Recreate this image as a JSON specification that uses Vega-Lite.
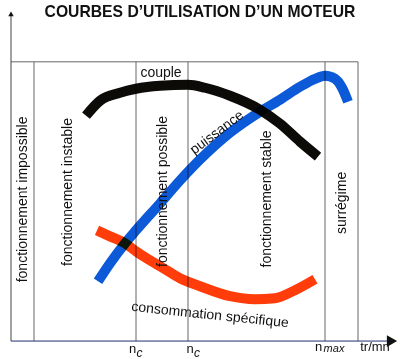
{
  "$schema": "https://vega.github.io/schema/vega-lite/v6.json",
  "width": 400,
  "height": 359,
  "autosize": {"type": "fit", "contains": "padding"},
  "padding": 0,
  "background": "white",
  "config": {"view": {"stroke": null}, "text": {"font": "Liberation Sans", "color": "#111111"}},
  "resolve": {"scale": {"color": "independent", "strokeWidth": "independent", "size": "independent", "shape": "independent"}},
  "datasets": {
    "cadre": [
      {"kind": "cadre", "x": 0, "y": 280, "x2": 347, "y2": 280},
      {"kind": "cadre", "x": 23, "y": 0, "x2": 23, "y2": 280},
      {"kind": "cadre", "x": 125, "y": 0, "x2": 125, "y2": 280},
      {"kind": "cadre", "x": 177, "y": 0, "x2": 177, "y2": 280},
      {"kind": "cadre", "x": 314, "y": 0, "x2": 314, "y2": 280},
      {"kind": "cadre", "x": 347, "y": 0, "x2": 347, "y2": 280},
      {"kind": "axe_y", "x": 0, "y": 0, "x2": 0, "y2": 327},
      {"kind": "axe_x", "x": 0, "y": 0, "x2": 380, "y2": 0}
    ],
    "fleches": [
      {"dir": "haut", "x": 0, "y": 328},
      {"dir": "droite", "x": 381, "y": 0}
    ],
    "courbes": [
      {"courbe": "couple", "x": 75, "y": 226},
      {"courbe": "couple", "x": 89, "y": 241},
      {"courbe": "couple", "x": 109, "y": 249},
      {"courbe": "couple", "x": 125, "y": 253},
      {"courbe": "couple", "x": 149, "y": 256},
      {"courbe": "couple", "x": 177, "y": 257},
      {"courbe": "couple", "x": 194, "y": 254},
      {"courbe": "couple", "x": 219, "y": 246},
      {"courbe": "couple", "x": 249, "y": 232},
      {"courbe": "couple", "x": 269, "y": 218},
      {"courbe": "couple", "x": 289, "y": 200},
      {"courbe": "couple", "x": 307, "y": 185},
      {"courbe": "puissance", "x": 87, "y": 60},
      {"courbe": "puissance", "x": 99, "y": 78},
      {"courbe": "puissance", "x": 114, "y": 98},
      {"courbe": "puissance", "x": 125, "y": 111},
      {"courbe": "puissance", "x": 149, "y": 138},
      {"courbe": "puissance", "x": 169, "y": 161},
      {"courbe": "puissance", "x": 189, "y": 182},
      {"courbe": "puissance", "x": 219, "y": 209},
      {"courbe": "puissance", "x": 249, "y": 230},
      {"courbe": "puissance", "x": 269, "y": 242},
      {"courbe": "puissance", "x": 289, "y": 255},
      {"courbe": "puissance", "x": 304, "y": 263},
      {"courbe": "puissance", "x": 314, "y": 266},
      {"courbe": "puissance", "x": 324, "y": 263},
      {"courbe": "puissance", "x": 331, "y": 254},
      {"courbe": "puissance", "x": 337, "y": 240},
      {"courbe": "consommation", "x": 86, "y": 111},
      {"courbe": "consommation", "x": 99, "y": 105},
      {"courbe": "consommation", "x": 114, "y": 98},
      {"courbe": "consommation", "x": 125, "y": 90},
      {"courbe": "consommation", "x": 139, "y": 81},
      {"courbe": "consommation", "x": 154, "y": 72},
      {"courbe": "consommation", "x": 169, "y": 63},
      {"courbe": "consommation", "x": 189, "y": 55},
      {"courbe": "consommation", "x": 219, "y": 45},
      {"courbe": "consommation", "x": 244, "y": 42},
      {"courbe": "consommation", "x": 264, "y": 43},
      {"courbe": "consommation", "x": 284, "y": 51},
      {"courbe": "consommation", "x": 304, "y": 62}
    ],
    "zones": [
      {"label": "fonctionnement impossible", "x": 12, "y": 142},
      {"label": "fonctionnement instable", "x": 57, "y": 149.5},
      {"label": "fonctionnement possible", "x": 152, "y": 150},
      {"label": "fonctionnement stable", "x": 256, "y": 142.5},
      {"label": "surrégime", "x": 331, "y": 138.5}
    ],
    "titre": [{"label": "COURBES D’UTILISATION D’UN MOTEUR", "x": 189, "y": 330}],
    "couple": [{"label": "couple", "x": 150, "y": 269}],
    "puissance": [{"label": "puissance", "x": 206, "y": 209}],
    "conso": [{"label": "consommation spécifique", "x": 199, "y": 26}],
    "graduations": [
      {"label": "n", "x": 121.5, "y": -8},
      {"label": "n", "x": 179, "y": -8},
      {"label": "n", "x": 307.5, "y": -6},
      {"label": "tr/mn", "x": 364, "y": -6}
    ],
    "indices": [
      {"label": "c", "x": 128.5, "y": -12},
      {"label": "c", "x": 186, "y": -12}
    ],
    "indice_max": [
      {"label": "max", "x": 323, "y": -8}
    ]
  },
  "encoding": {
    "x": {"field": "x", "type": "quantitative", "scale": {"domain": [-11, 389], "nice": false, "zero": false}, "axis": null},
    "y": {"field": "y", "type": "quantitative", "scale": {"domain": [-17, 342], "nice": false, "zero": false}, "axis": null}
  },
  "layer": [
    {
      "data": {"name": "cadre"},
      "mark": {"type": "rule"},
      "encoding": {
        "x2": {"field": "x2"},
        "y2": {"field": "y2"},
        "color": {"field": "kind", "type": "nominal", "legend": null,
          "scale": {"domain": ["cadre", "axe_y", "axe_x"], "range": ["#666666", "#444444", "#1f2f6f"]}},
        "strokeWidth": {"field": "kind", "type": "nominal", "legend": null,
          "scale": {"domain": ["cadre", "axe_y", "axe_x"], "range": [1, 1, 1.5]}}
      }
    },
    {
      "data": {"name": "fleches"},
      "mark": {"type": "point", "filled": true, "color": "#111111", "opacity": 1},
      "encoding": {
        "shape": {"field": "dir", "type": "nominal", "legend": null,
          "scale": {"domain": ["haut", "droite"], "range": ["triangle-up", "triangle-right"]}},
        "size": {"field": "dir", "type": "nominal", "legend": null,
          "scale": {"domain": ["haut", "droite"], "range": [30, 140]}}
      }
    },
    {
      "data": {"name": "courbes"},
      "mark": {"type": "line", "strokeWidth": 10, "interpolate": "monotone", "strokeCap": "butt", "blend": "multiply"},
      "encoding": {
        "color": {"field": "courbe", "type": "nominal", "legend": null,
          "scale": {"domain": ["couple", "puissance", "consommation"], "range": ["#0d0b08", "#0c5ad8", "#ff3c0a"]}}
      }
    },
    {
      "data": {"name": "zones"},
      "mark": {"type": "text", "fontSize": 14, "angle": 270, "align": "center", "baseline": "middle"},
      "encoding": {"text": {"field": "label"}}
    },
    {
      "data": {"name": "titre"},
      "mark": {"type": "text", "fontSize": 15.7, "fontWeight": "bold", "align": "center", "baseline": "middle"},
      "encoding": {"text": {"field": "label"}}
    },
    {
      "data": {"name": "couple"},
      "mark": {"type": "text", "fontSize": 14, "align": "center", "baseline": "middle"},
      "encoding": {"text": {"field": "label"}}
    },
    {
      "data": {"name": "puissance"},
      "mark": {"type": "text", "fontSize": 14, "angle": 323, "align": "center", "baseline": "middle"},
      "encoding": {"text": {"field": "label"}}
    },
    {
      "data": {"name": "conso"},
      "mark": {"type": "text", "fontSize": 14, "angle": 6, "align": "center", "baseline": "middle"},
      "encoding": {"text": {"field": "label"}}
    },
    {
      "data": {"name": "graduations"},
      "mark": {"type": "text", "fontSize": 13, "align": "center", "baseline": "middle"},
      "encoding": {"text": {"field": "label"}}
    },
    {
      "data": {"name": "indices"},
      "mark": {"type": "text", "fontSize": 12, "fontStyle": "italic", "align": "center", "baseline": "middle"},
      "encoding": {"text": {"field": "label"}}
    },
    {
      "data": {"name": "indice_max"},
      "mark": {"type": "text", "fontSize": 11, "fontStyle": "italic", "align": "center", "baseline": "middle"},
      "encoding": {"text": {"field": "label"}}
    }
  ]
}
